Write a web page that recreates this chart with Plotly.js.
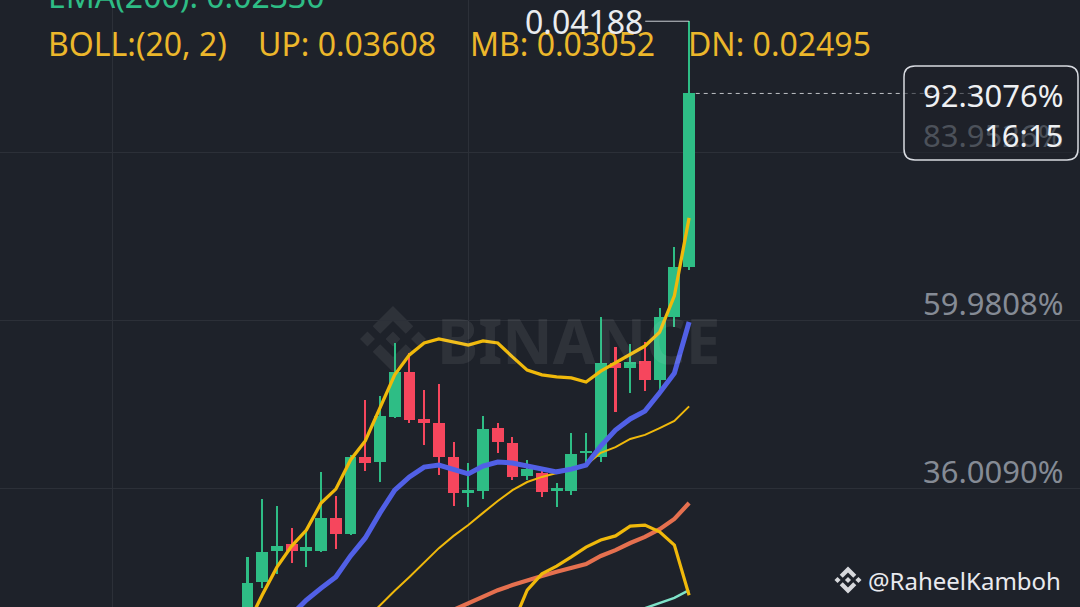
<!DOCTYPE html>
<html>
<head>
<meta charset="utf-8">
<script src="https://cdn.plot.ly/plotly-3.0.1.min.js"></script>
<style>
html,body{margin:0;padding:0;background:#1e222a;}
#chart{width:1080px;height:607px;}
</style>
</head>
<body>
<div id="chart"></div>
<script>
// ---------------- DATA ----------------
const candleIdx = [0,1,2,3,4,5,6,7,8,9,10,11,12,13,14,15,16,17,18,19,20,21,22,23,24,25,26,27,28,29,30];
const openP  = [0.02407,0.02534,0.02626,0.02646,0.02626,0.02626,0.02723,0.02676,0.02903,0.02888,0.03021,0.03153,0.03015,0.03003,0.02903,0.02797,0.02802,0.02988,0.02944,0.02847,0.02856,0.02802,0.02802,0.02915,0.02903,0.03180,0.03165,0.03186,0.03130,0.03316,0.03463];
const highP  = [0.02608,0.02779,0.02758,0.02693,0.02690,0.02859,0.02788,0.02909,0.03071,0.03083,0.03239,0.03209,0.03100,0.03118,0.02947,0.02885,0.03024,0.03003,0.02962,0.02894,0.02864,0.02826,0.02974,0.02974,0.03316,0.03227,0.03236,0.03242,0.03342,0.03522,0.04188];
const lowP   = [0.02363,0.02516,0.02558,0.02590,0.02578,0.02623,0.02631,0.02673,0.02861,0.02829,0.03018,0.03003,0.02938,0.02850,0.02758,0.02755,0.02779,0.02915,0.02835,0.02835,0.02785,0.02755,0.02791,0.02888,0.02888,0.03035,0.03092,0.03097,0.03100,0.03286,0.03454];
const closeP = [0.02531,0.02623,0.02640,0.02626,0.02637,0.02723,0.02676,0.02903,0.02885,0.03024,0.03153,0.03012,0.03003,0.02903,0.02797,0.02805,0.02985,0.02947,0.02844,0.02867,0.02800,0.02811,0.02912,0.02920,0.03180,0.03165,0.03183,0.03130,0.03316,0.03463,0.03975];

const bollUp  = [0.02407,0.02496,0.02578,0.02640,0.02687,0.02767,0.02808,0.02894,0.02950,0.03050,0.03145,0.03204,0.03239,0.03251,0.03242,0.03233,0.03245,0.03239,0.03198,0.03159,0.03145,0.03139,0.03136,0.03124,0.03156,0.03180,0.03204,0.03230,0.03271,0.03378,0.03608];
const bollMid = [null,null,null,null,null,null,null,null,0.02422,0.02466,0.02508,0.02549,0.02593,0.02634,0.02670,0.02702,0.02738,0.02773,0.02805,0.02829,0.02844,0.02856,0.02867,0.02879,0.02915,0.02932,0.02956,0.02968,0.02988,0.03009,0.03052];
const bollDn  = [null,null,null,null,null,null,null,null,null,null,null,null,null,null,null,null,null,null,0.02407,0.02510,0.02558,0.02581,0.02608,0.02637,0.02658,0.02670,0.02699,0.02702,0.02682,0.02643,0.02495];
const maBlue  = [null,null,null,0.02437,0.02481,0.02516,0.02549,0.02611,0.02664,0.02738,0.02805,0.02844,0.02873,0.02879,0.02867,0.02853,0.02876,0.02888,0.02885,0.02876,0.02867,0.02859,0.02867,0.02879,0.02935,0.02982,0.03015,0.03038,0.03092,0.03150,0.03301];
const maSalmon= [null,null,null,null,null,null,null,null,null,null,null,null,null,null,0.02452,0.02472,0.02490,0.02510,0.02525,0.02540,0.02552,0.02564,0.02575,0.02587,0.02611,0.02628,0.02649,0.02667,0.02690,0.02720,0.02767];
const maTeal  = [null,null,null,null,null,null,null,null,null,null,null,null,null,null,null,null,null,null,null,null,null,null,null,null,null,null,null,0.02457,0.02472,0.02487,0.02510];

const gridPrices = [0.0380229, 0.0330680, 0.0281131];
const gridLabels = ['83.9526%', '59.9808%', '36.0090%'];
const timeGrid   = [-9.2, 15];
const lastPctLabel = '92.3076%';
const countdown    = '16:15';
const emaLabel     = 'EMA(200): 0.02330';
const bollLabel    = 'BOLL:(20, 2)';
const handle       = '@RaheelKamboh';

// ---------------- STYLE ----------------
const BG = '#1e222a';
const GREEN = '#2ebd85', RED = '#f6465d';
const YELLOW = '#f0b90b', TXT_YEL = '#ecb72b';
const W = 1080, H = 607;
const FONT = 'Noto Sans, Open Sans, sans-serif';
const fx = px => px / W;
const fy = py => 1 - py / H;

const colors = closeP.map((c, i) => c >= openP[i] ? GREEN : RED);
const bodyBase = closeP.map((c, i) => Math.min(c, openP[i]));
const bodyLen  = closeP.map((c, i) => Math.max(Math.abs(c - openP[i]), 0.00003));
const wickLen  = highP.map((h, i) => h - lowP[i]);

const traces = [
  {type:'bar', x:candleIdx, base:lowP, y:wickLen, width:0.14,
   marker:{color:colors, line:{width:0}}, hoverinfo:'skip'},
  {type:'bar', x:candleIdx, base:bodyBase, y:bodyLen, width:0.8,
   marker:{color:colors, line:{width:0}}, hoverinfo:'skip'},
  {type:'scatter', mode:'lines', x:candleIdx, y:maTeal, line:{color:'#7fe3c9', width:2.5}, hoverinfo:'skip'},
  {type:'scatter', mode:'lines', x:candleIdx, y:maSalmon, line:{color:'#e5704f', width:4.2}, hoverinfo:'skip'},
  {type:'scatter', mode:'lines', x:candleIdx, y:bollDn, line:{color:YELLOW, width:3.2}, hoverinfo:'skip'},
  {type:'scatter', mode:'lines', x:candleIdx, y:bollMid, line:{color:YELLOW, width:2}, hoverinfo:'skip'},
  {type:'scatter', mode:'lines', x:candleIdx, y:maBlue, line:{color:'#5160e6', width:5}, hoverinfo:'skip'},
  {type:'scatter', mode:'lines', x:candleIdx, y:bollUp, line:{color:YELLOW, width:3.3}, hoverinfo:'skip'}
];

// Binance logo (unit coordinates, y down)
const logoPolys = [
  [[-0.388,-0.159],[0,-0.547],[0.388,-0.159],[0.614,-0.385],[0,-1],[-0.614,-0.386]],
  [[-0.388,0.159],[0,0.547],[0.388,0.159],[0.614,0.385],[0,1],[-0.614,0.386]],
  [[-1,0],[-0.774,-0.226],[-0.548,0],[-0.774,0.226]],
  [[1,0],[0.774,-0.226],[0.548,0],[0.774,0.226]],
  [[0,-0.226],[0.226,0],[0,0.226],[-0.226,0]]
];
function logoShapes(cx, cy, s, color) {
  return logoPolys.map(poly => ({
    type:'path', xref:'paper', yref:'paper', layer:'below',
    path: poly.map((p, k) => (k ? 'L' : 'M') + fx(cx + p[0]*s) + ',' + fy(cy + p[1]*s)).join(' ') + ' Z',
    fillcolor: color, line:{width:0}
  }));
}
function roundRect(x0, y0, x1, y1, r) {
  const P = (x, y) => fx(x) + ',' + fy(y);
  return 'M' + P(x0+r,y0) + ' L' + P(x1-r,y0) + ' Q' + P(x1,y0) + ' ' + P(x1,y0+r) +
         ' L' + P(x1,y1-r) + ' Q' + P(x1,y1) + ' ' + P(x1-r,y1) +
         ' L' + P(x0+r,y1) + ' Q' + P(x0,y1) + ' ' + P(x0,y1-r) +
         ' L' + P(x0,y0+r) + ' Q' + P(x0,y0) + ' ' + P(x0+r,y0) + ' Z';
}

const last = candleIdx.length - 1;
const maxHigh = Math.max(...highP);

const shapes = [
  ...logoShapes(393, 339, 33, 'rgba(255,255,255,0.075)'),
  {type:'line', xref:'x', yref:'y', x0:last-2.98, x1:last, y0:maxHigh, y1:maxHigh,
   line:{color:'#c9cdd3', width:1}},
  {type:'line', xref:'x', yref:'y', x0:last+0.45, x1:50, y0:closeP[last], y1:closeP[last],
   line:{color:'rgba(230,232,236,0.8)', width:1, dash:'4px,4px'}},
  {type:'path', xref:'paper', yref:'paper', path: roundRect(904, 66, 1078, 160, 11),
   fillcolor:'rgba(30,34,42,0.6)', line:{color:'#d7dae0', width:1.5}},
  ...logoShapes(848, 580, 13.5, 'rgba(235,236,240,0.9)')
];

const ann = [];
function txt(text, px, py, color, size, xanchor, extra) {
  ann.push(Object.assign({text, xref:'paper', yref:'paper', x:fx(px), y:fy(py),
    xanchor, yanchor:'middle', showarrow:false, font:{family:FONT, size, color}}, extra || {}));
}
// big faint watermark text
txt('<b>BINANCE</b>', 579, 340, 'rgba(255,255,255,0.075)', 62, 'center');
// header texts
txt(emaLabel, 46, -4.5, GREEN, 32, 'left');
txt(bollLabel, 46, 44, TXT_YEL, 32, 'left');
txt('UP: ' + bollUp[last].toFixed(5), 256, 44, TXT_YEL, 32, 'left');
txt('MB: ' + bollMid[last].toFixed(5), 468, 44, TXT_YEL, 32, 'left');
txt('DN: ' + bollDn[last].toFixed(5), 686, 44, TXT_YEL, 32, 'left');
// price-axis labels (above their gridlines)
gridPrices.forEach((p, i) => {
  ann.push({text:gridLabels[i], xref:'paper', yref:'y', x:fx(1065), y:p, yshift:17.5,
    xanchor:'right', yanchor:'middle', showarrow:false,
    font:{family:FONT, size:31, color: i === 0 ? '#4c515a' : '#858b95'}});
});
// highest price label
ann.push({text:maxHigh.toFixed(5), xref:'x', yref:'y', x:last-2.98, y:maxHigh,
  xanchor:'right', yanchor:'middle', showarrow:false, font:{family:FONT, size:32, color:'#eaecef'}});
// last price box
txt(lastPctLabel, 1065, 95, '#eef0f3', 31, 'right');
txt(countdown, 1065, 135, '#eef0f3', 31, 'right');
// handle
txt(handle, 866, 580, '#e9eaee', 24, 'left');

const layout = {
  width: W, height: H,
  margin:{l:0, r:0, t:0, b:0, pad:0},
  paper_bgcolor: BG, plot_bgcolor: BG,
  showlegend:false, barmode:'overlay', bargap:0,
  xaxis:{range:[-16.814, 56.556], tickmode:'array', tickvals:timeGrid, showticklabels:false,
         showgrid:true, gridcolor:'#2c3038', gridwidth:1, zeroline:false, showline:false, ticks:'', fixedrange:true},
  yaxis:{range:[0.0246034, 0.0425059], tickmode:'array', tickvals:gridPrices, showticklabels:false,
         showgrid:true, gridcolor:'#2c3038', gridwidth:1, zeroline:false, showline:false, ticks:'', fixedrange:true},
  shapes, annotations: ann
};

Plotly.newPlot('chart', traces, layout, {staticPlot:true, displayModeBar:false});
</script>
</body>
</html>
